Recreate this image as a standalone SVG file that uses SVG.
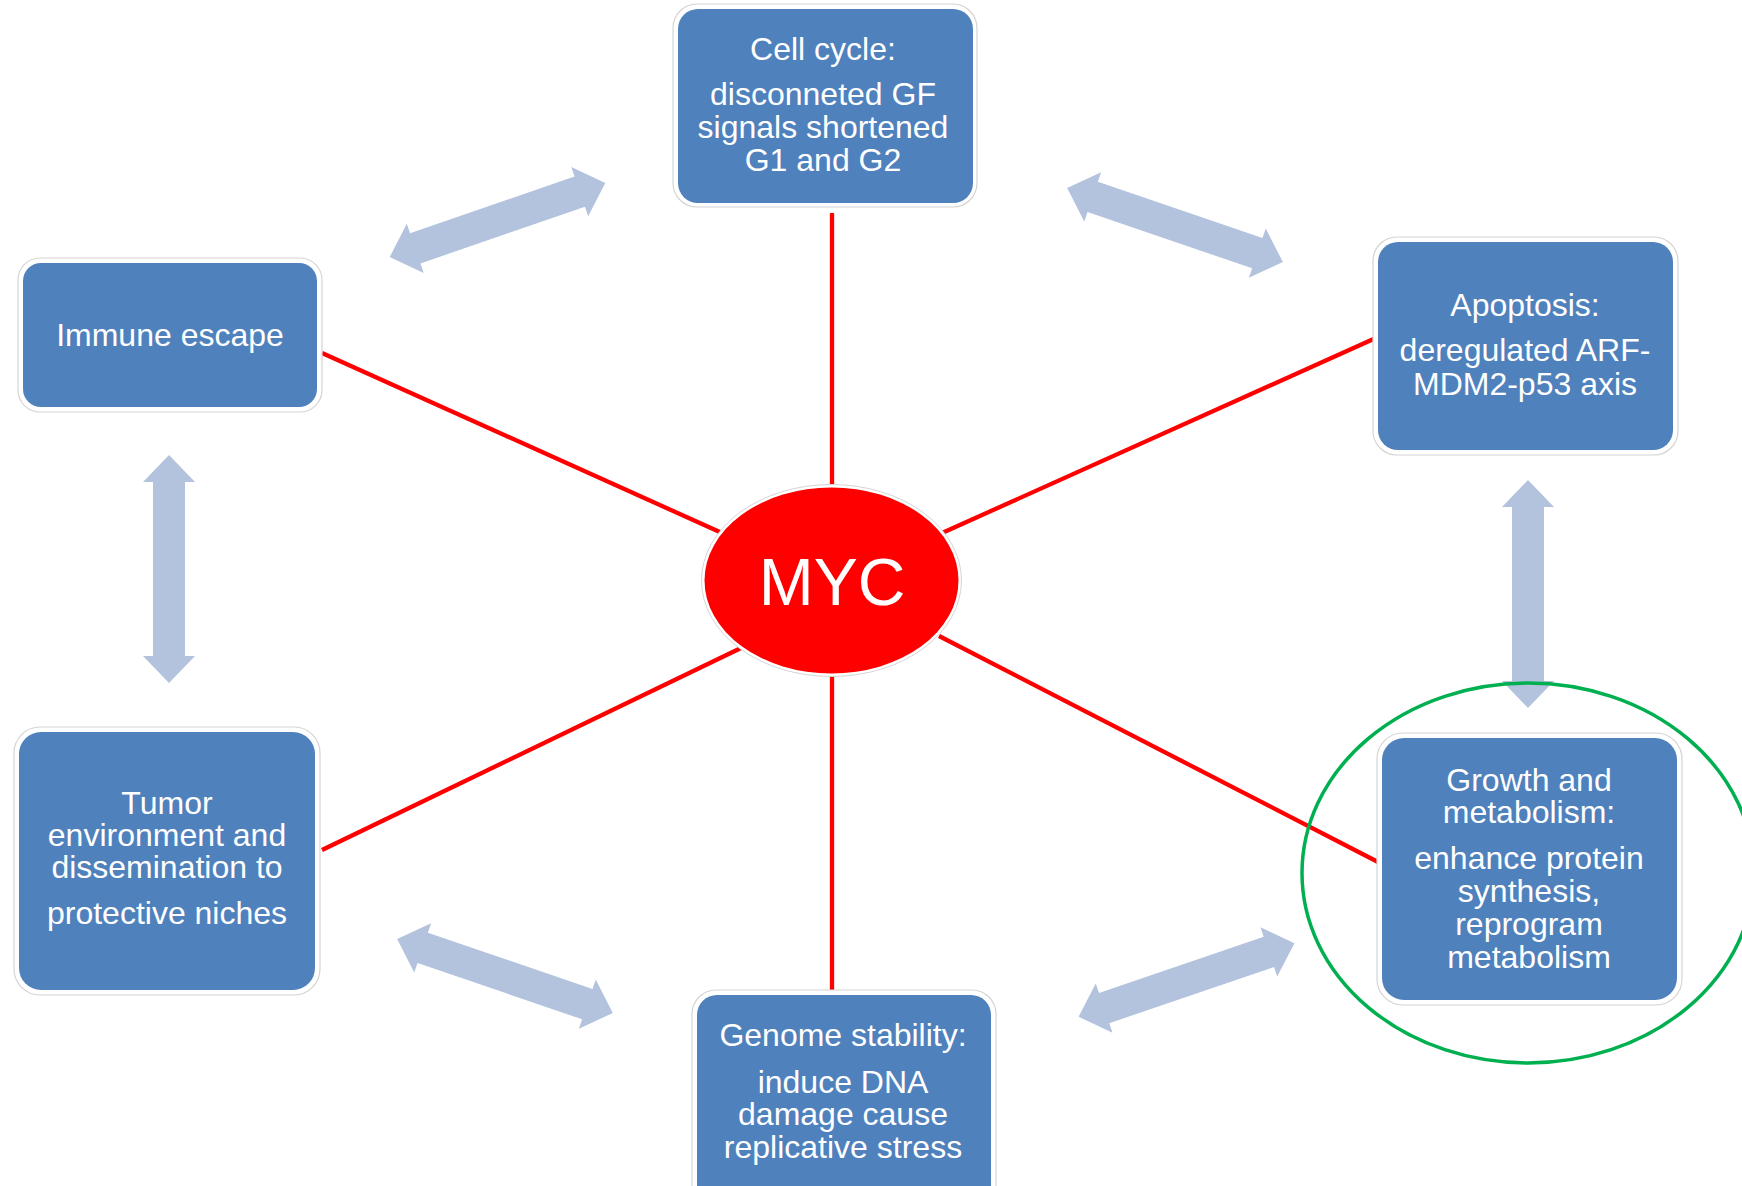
<svg xmlns="http://www.w3.org/2000/svg" width="1742" height="1186" viewBox="0 0 1742 1186">
<defs>
<style>
.outer{fill:#ffffff;stroke:#d4d4d4;stroke-width:1.2}
.box{fill:#4F81BD}
.t{font-family:"Liberation Sans",Arial,sans-serif;font-size:32px;fill:#ffffff;text-anchor:middle}
.red{stroke:#FF0000;stroke-width:4.3;fill:none}
.dbl{fill:#B3C3DE}
</style>
<path id="dblarrow" d="M -114 0 L -87 -26 L -87 -16 L 87 -16 L 87 -26 L 114 0 L 87 26 L 87 16 L -87 16 L -87 26 Z"/>
</defs>
<rect width="1742" height="1186" fill="#ffffff"/>

<g id="connectors">
<line class="red" x1="832" y1="213" x2="832" y2="487"/>
<line class="red" x1="832" y1="674" x2="832" y2="990"/>
<line class="red" x1="322" y1="353" x2="722" y2="533"/>
<line class="red" x1="942" y1="533" x2="1378" y2="337"/>
<line class="red" x1="741" y1="648" x2="322" y2="850"/>
<line class="red" x1="939" y1="636" x2="1378" y2="862"/>
<g class="dbl">
<use href="#dblarrow" transform="translate(497.5 220) rotate(-19)"/>
<use href="#dblarrow" transform="translate(1175 225) rotate(18.9)"/>
<use href="#dblarrow" transform="translate(505 976) rotate(18.9)"/>
<use href="#dblarrow" transform="translate(1186.5 980) rotate(-18.8)"/>
<use href="#dblarrow" transform="translate(169 569) rotate(90)"/>
<use href="#dblarrow" transform="translate(1528 594) rotate(90)"/>
</g>
</g>

<g id="myc">
<ellipse cx="831.5" cy="580.5" rx="130" ry="96" fill="#ffffff" stroke="#d4d4d4" stroke-width="1"/>
<ellipse cx="831.5" cy="580.5" rx="127" ry="93" fill="#FF0000"/>
<text x="832" y="605" font-family="'Liberation Sans',Arial,sans-serif" font-size="66" fill="#ffffff" text-anchor="middle">MYC</text>
</g>

<g id="cell-cycle">
<rect class="outer" x="673" y="4" width="304" height="203" rx="24"/>
<rect class="box" x="678" y="9" width="295" height="194" rx="20"/>
<text class="t" x="823" y="60">Cell cycle:</text>
<text class="t" x="823" y="105">disconneted GF</text>
<text class="t" x="823" y="138">signals shortened</text>
<text class="t" x="823" y="171">G1 and G2</text>
</g>

<g id="immune-escape">
<rect class="outer" x="18" y="258" width="304" height="154" rx="22"/>
<rect class="box" x="23" y="263" width="294" height="144" rx="18"/>
<text class="t" x="170" y="346">Immune escape</text>
</g>

<g id="apoptosis">
<rect class="outer" x="1373" y="237" width="305" height="218" rx="24"/>
<rect class="box" x="1378" y="242" width="295" height="208" rx="20"/>
<text class="t" x="1525" y="316">Apoptosis:</text>
<text class="t" x="1525" y="361">deregulated ARF-</text>
<text class="t" x="1525" y="395">MDM2-p53 axis</text>
</g>

<g id="tumor-environment">
<rect class="outer" x="14" y="727" width="306" height="268" rx="26"/>
<rect class="box" x="19" y="732" width="296" height="258" rx="22"/>
<text class="t" x="167" y="814">Tumor</text>
<text class="t" x="167" y="846">environment and</text>
<text class="t" x="167" y="878">dissemination to</text>
<text class="t" x="167" y="924">protective niches</text>
</g>

<g id="genome-stability">
<rect class="outer" x="692" y="990" width="304" height="230" rx="24"/>
<rect class="box" x="697" y="995" width="294" height="220" rx="20"/>
<text class="t" x="843" y="1046">Genome stability:</text>
<text class="t" x="843" y="1093">induce DNA</text>
<text class="t" x="843" y="1125">damage cause</text>
<text class="t" x="843" y="1158">replicative stress</text>
</g>

<g id="growth-metabolism">
<rect class="outer" x="1377" y="733" width="305" height="272" rx="26"/>
<rect class="box" x="1382" y="738" width="295" height="262" rx="22"/>
<text class="t" x="1529" y="791">Growth and</text>
<text class="t" x="1529" y="823">metabolism:</text>
<text class="t" x="1529" y="869">enhance protein</text>
<text class="t" x="1529" y="902">synthesis,</text>
<text class="t" x="1529" y="935">reprogram</text>
<text class="t" x="1529" y="968">metabolism</text>
</g>

<g id="highlight">
<ellipse cx="1528" cy="873" rx="226" ry="190" fill="none" stroke="#00B050" stroke-width="3.5"/>
</g>
</svg>
